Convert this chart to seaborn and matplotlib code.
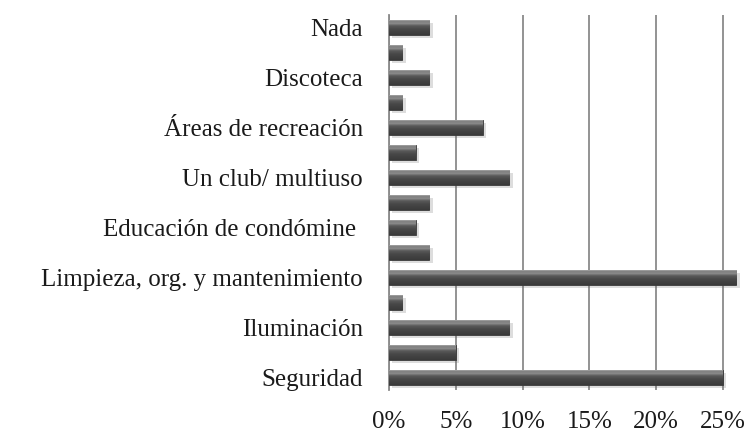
import matplotlib
matplotlib.use("Agg")
import matplotlib.pyplot as plt
import matplotlib.patheffects as pe
from matplotlib.colors import LinearSegmentedColormap
from matplotlib.ticker import FuncFormatter
import seaborn as sns
import numpy as np
import pandas as pd

# Responses, top to bottom; only every other category carries a visible label
labels = ["Nada", "", "Discoteca", "", "Áreas de recreación", "",
          "Un club/ multiuso", "", "Educación de condómine ", "",
          "Limpieza, org. y mantenimiento", "", "Iluminación", "", "Seguridad"]
values = [0.03, 0.01, 0.03, 0.01, 0.07, 0.02, 0.09, 0.03, 0.02, 0.03,
          0.26, 0.01, 0.09, 0.05, 0.25]
x_ticks = [0.0, 0.05, 0.10, 0.15, 0.20, 0.25]

df = pd.DataFrame({"pos": list(range(len(values))), "value": values})

sns.set_theme(style="white")
plt.rcParams["font.family"] = ["Liberation Serif", "DejaVu Serif"]

fig = plt.figure(figsize=(7.51, 4.41), dpi=100)
ax = fig.add_axes([0.518, 0.116, 0.482, 0.850])

sns.barplot(data=df, x="value", y="pos", orient="h", width=0.6,
            color="#474747", saturation=1, edgecolor="#3a3a3a",
            linewidth=0.6, ax=ax, zorder=3)

# vertical shading for a bevelled, glossy bar face (top -> bottom)
bevel = LinearSegmentedColormap.from_list(
    "bevel", [(0.0, "#a8a8a8"), (0.10, "#7a7a7a"), (0.22, "#8e8e8e"),
              (0.38, "#5a5a5a"), (0.6, "#484848"), (1.0, "#3a3a3a")])
grad = np.linspace(0, 1, 64).reshape(-1, 1)

for p in ax.patches:
    p.set_path_effects([pe.SimplePatchShadow(offset=(2.5, -2.5), alpha=0.22,
                                             shadow_rgbFace="#666666"),
                        pe.Normal()])
    x0, y0 = p.get_x(), p.get_y()
    w, h = p.get_width(), p.get_height()
    im = ax.imshow(grad, cmap=bevel, aspect="auto", origin="upper",
                   extent=(x0, x0 + w, y0 + h, y0), zorder=4,
                   interpolation="bilinear")
    im.set_clip_path(p)

ax.set_xlim(0, 0.271)
ax.set_ylim(len(values) - 0.5, -0.5)
ax.set_xticks(x_ticks)
ax.xaxis.set_major_formatter(FuncFormatter(lambda v, _: f"{v * 100:.0f}%"))
ax.set_yticks(range(len(labels)))
ax.set_yticklabels(labels)
ax.set_xlabel("")
ax.set_ylabel("")

ax.grid(axis="x", color="#8a8a8a", linewidth=1.3, zorder=0)
ax.grid(axis="y", visible=False)
for side in ["top", "right", "bottom"]:
    ax.spines[side].set_visible(False)
ax.spines["left"].set_color("#8a8a8a")
ax.spines["left"].set_linewidth(1.3)
ax.tick_params(axis="y", length=0, pad=19, labelsize=18, labelcolor="#1a1a1a")
ax.tick_params(axis="x", length=0, pad=15, labelsize=18, labelcolor="#1a1a1a")

fig.savefig("out.png", dpi=100)
